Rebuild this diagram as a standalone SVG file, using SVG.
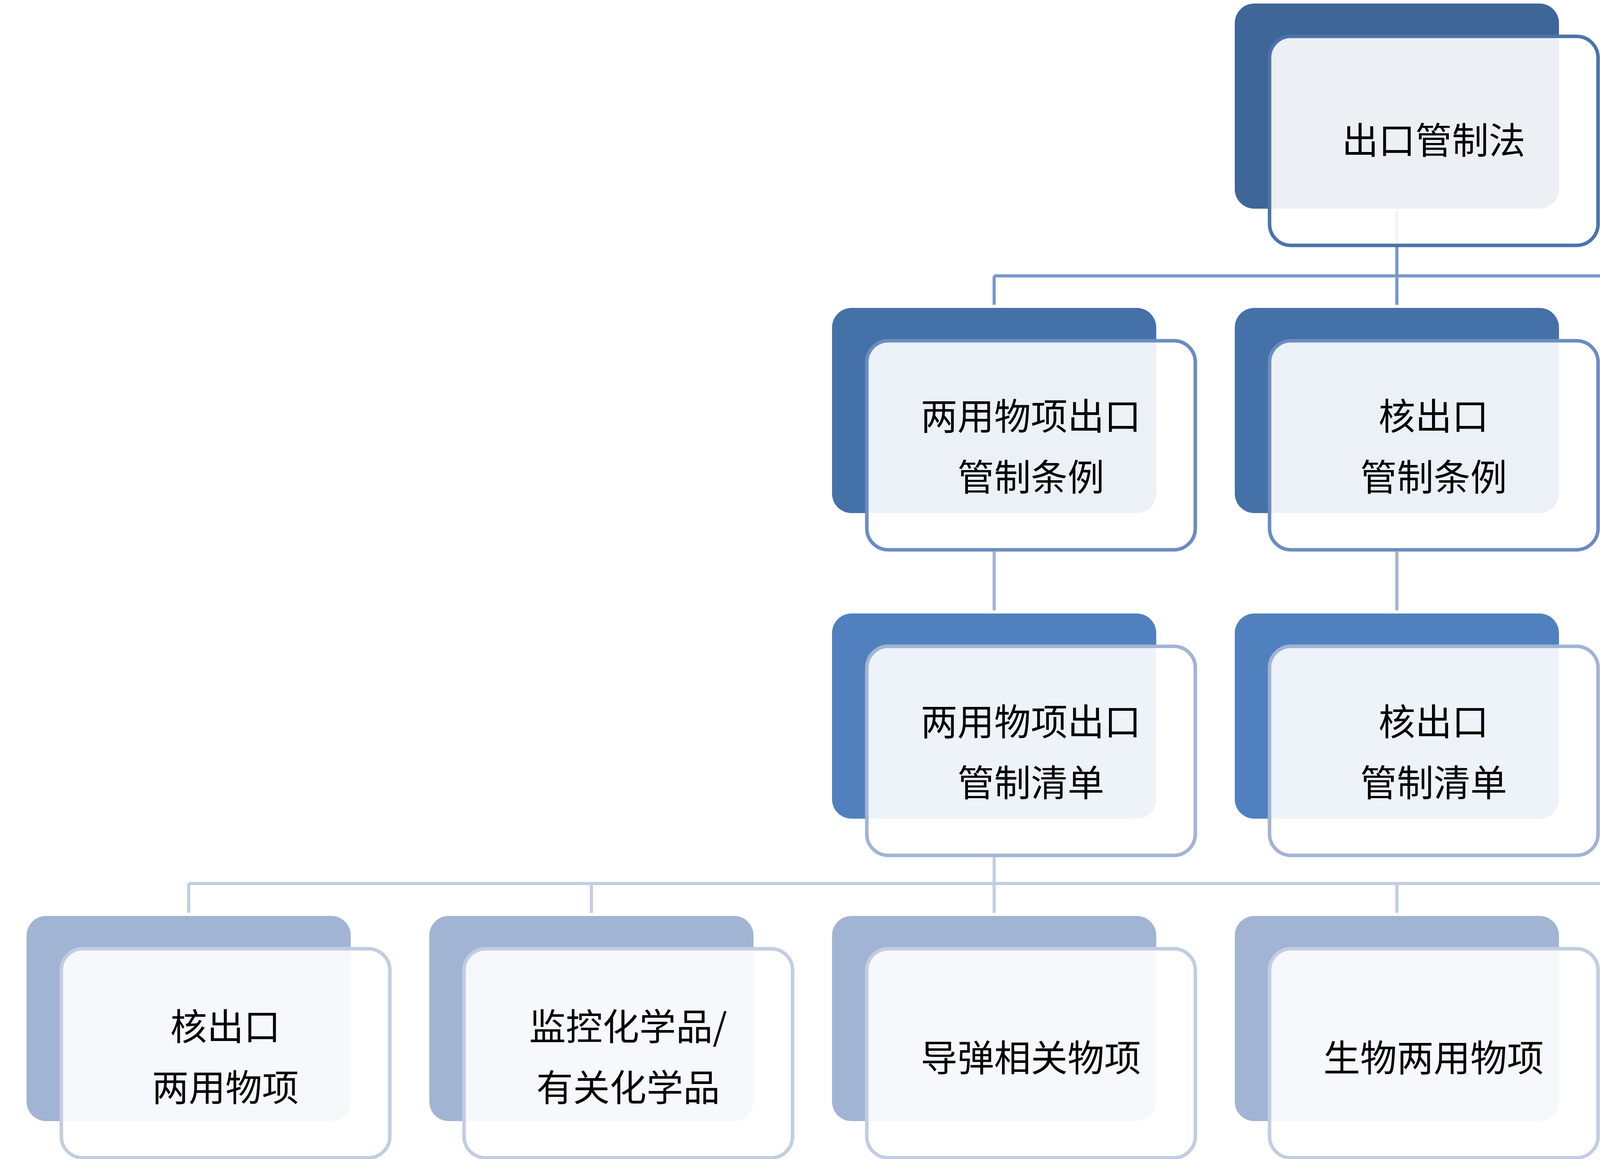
<svg xmlns="http://www.w3.org/2000/svg" width="5170" height="2966" viewBox="0 0 5170 2966">
<style>
text{font-family:"Noto Sans CJK SC","Liberation Sans",sans-serif;font-size:94px;fill:#000;text-anchor:middle}
.f{fill:#fff;fill-opacity:0.9;stroke-width:9}
.c{fill:none;stroke-width:8}
</style>
<rect width="5170" height="2966" fill="#fff"/>
<g id="connectors">
<path class="c" stroke="#7898C8" d="M3576 540V706M2545 706H4607M2545 706V780M3576 706V780M4607 706V780"/>
<path class="c" stroke="#A0B4D4" d="M2545 1412V1562M3576 1412V1562M4607 1412V1562"/>
<path class="c" stroke="#C2CDE2" d="M2545 2190V2261M483 2261H4607M483 2261V2336M1514 2261V2336M2545 2261V2336M3576 2261V2336M4607 2261V2336"/>
</g>
<g id="n0"><rect x="3161" y="9" width="830" height="525" rx="50" fill="#3E6698"/><rect class="f" x="3250" y="93" width="841" height="535" rx="55" stroke="#4A74AA"/><text x="3670" y="394">出口管制法</text></g>
<g id="n1"><rect x="2130" y="788" width="830" height="525" rx="50" fill="#4471A8"/><rect class="f" x="2219" y="872" width="841" height="535" rx="55" stroke="#6A8CC2"/><text x="2639" y="1100">两用物项出口</text><text x="2639" y="1256">管制条例</text></g>
<g id="n2"><rect x="3161" y="788" width="830" height="525" rx="50" fill="#4471A8"/><rect class="f" x="3250" y="872" width="841" height="535" rx="55" stroke="#6A8CC2"/><text x="3670" y="1100">核出口</text><text x="3670" y="1256">管制条例</text></g>
<g id="n3"><rect x="4192" y="788" width="830" height="525" rx="50" fill="#4471A8"/><rect class="f" x="4281" y="872" width="841" height="535" rx="55" stroke="#6A8CC2"/><text x="4701" y="1100">军品出口</text><text x="4701" y="1256">管制条例</text></g>
<g id="n4"><rect x="2130" y="1570" width="830" height="525" rx="50" fill="#5081BE"/><rect class="f" x="2219" y="1654" width="841" height="535" rx="55" stroke="#A0B4D4"/><text x="2639" y="1882">两用物项出口</text><text x="2639" y="2038">管制清单</text></g>
<g id="n5"><rect x="3161" y="1570" width="830" height="525" rx="50" fill="#5081BE"/><rect class="f" x="3250" y="1654" width="841" height="535" rx="55" stroke="#A0B4D4"/><text x="3670" y="1882">核出口</text><text x="3670" y="2038">管制清单</text></g>
<g id="n6"><rect x="4192" y="1570" width="830" height="525" rx="50" fill="#5081BE"/><rect class="f" x="4281" y="1654" width="841" height="535" rx="55" stroke="#A0B4D4"/><text x="4701" y="1882">军品出口</text><text x="4701" y="2038">管理清单</text></g>
<g id="n7"><rect x="68" y="2344" width="830" height="525" rx="50" fill="#A2B4D4"/><rect class="f" x="157" y="2428" width="841" height="535" rx="55" stroke="#C2CDE2"/><text x="577" y="2662">核出口</text><text x="577" y="2818">两用物项</text></g>
<g id="n8"><rect x="1099" y="2344" width="830" height="525" rx="50" fill="#A2B4D4"/><rect class="f" x="1188" y="2428" width="841" height="535" rx="55" stroke="#C2CDE2"/><text x="1608" y="2662">监控化学品/</text><text x="1608" y="2818">有关化学品</text></g>
<g id="n9"><rect x="2130" y="2344" width="830" height="525" rx="50" fill="#A2B4D4"/><rect class="f" x="2219" y="2428" width="841" height="535" rx="55" stroke="#C2CDE2"/><text x="2639" y="2742">导弹相关物项</text></g>
<g id="n10"><rect x="3161" y="2344" width="830" height="525" rx="50" fill="#A2B4D4"/><rect class="f" x="3250" y="2428" width="841" height="535" rx="55" stroke="#C2CDE2"/><text x="3670" y="2742">生物两用物项</text></g>
<g id="n11"><rect x="4192" y="2344" width="830" height="525" rx="50" fill="#A2B4D4"/><rect class="f" x="4281" y="2428" width="841" height="535" rx="55" stroke="#C2CDE2"/><text x="4701" y="2742">其他两用物项</text></g>
</svg>
